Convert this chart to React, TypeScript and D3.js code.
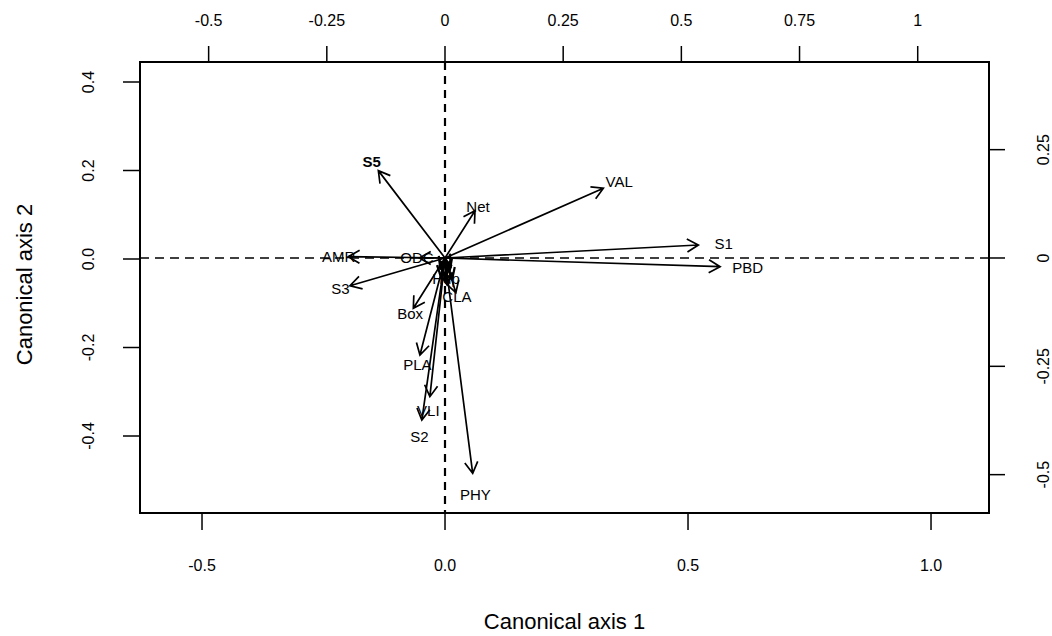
import React from "react";
import * as d3 from "d3";

// Axis ticks
const bottomTicks = [-0.5, 0, 0.5, 1.0];
const bottomTickLabels = ["-0.5", "0.0", "0.5", "1.0"];
const leftTicks = [-0.4, -0.2, 0, 0.2, 0.4];
const leftTickLabels = ["-0.4", "-0.2", "0.0", "0.2", "0.4"];
const topTicks = [-0.5, -0.25, 0, 0.25, 0.5, 0.75, 1];
const topTickLabels = ["-0.5", "-0.25", "0", "0.25", "0.5", "0.75", "1"];
const rightTicks = [-0.5, -0.25, 0, 0.25];
const rightTickLabels = ["-0.5", "-0.25", "0", "0.25"];

// Biplot arrows (in top/right axis units)
const arrowNames = ["S5", "VAL", "Net", "S1", "PBD", "AMR", "ODC", "S3", "Hdp", "CLA", "Box", "PLA", "VLI", "S2", "PHY"];
const arrowAxis1 = [-0.141, 0.335, 0.0635, 0.536, 0.582, -0.2046, -0.054, -0.201, 0.002, 0.023, -0.067, -0.053, -0.032, -0.049, 0.0586];
const arrowAxis2 = [0.2016, 0.161, 0.109, 0.030, -0.020, 0.003, 0.0, -0.064, -0.042, -0.08, -0.116, -0.224, -0.320, -0.374, -0.497];

// Short unlabelled arrows clustered at the origin
const minorAxis1 = [0.01, 0.015, -0.008, 0.012, -0.01, 0.004];
const minorAxis2 = [-0.03, -0.05, -0.045, -0.02, -0.025, -0.06];

const xTitle = "Canonical axis 1";
const yTitle = "Canonical axis 2";

const W = 1052;
const H = 636;
const box = { left: 140, right: 989, top: 62, bottom: 513 };

export default function App() {
  const xBottom = d3.scaleLinear().domain([-0.6276, 1.1193]).range([box.left, box.right]);
  const yLeft = d3.scaleLinear().domain([-0.574, 0.4452]).range([box.bottom, box.top]);
  const xTop = d3.scaleLinear().domain([-0.6452, 1.1508]).range([box.left, box.right]);
  const yRight = d3.scaleLinear().domain([-0.5885, 0.4523]).range([box.bottom, box.top]);

  const ox = xTop(0);
  const oy = yRight(0);
  const font = "Liberation Sans, Arial, Helvetica, sans-serif";
  const tickFs = 16;
  const headLen = 13;
  const headAng = Math.PI / 6;

  const arrowPath = (x1: number, y1: number) => {
    const ang = Math.atan2(y1 - oy, x1 - ox);
    const a1 = ang + Math.PI - headAng;
    const a2 = ang + Math.PI + headAng;
    const p = d3.path();
    p.moveTo(ox, oy);
    p.lineTo(x1, y1);
    p.moveTo(x1 + headLen * Math.cos(a1), y1 + headLen * Math.sin(a1));
    p.lineTo(x1, y1);
    p.lineTo(x1 + headLen * Math.cos(a2), y1 + headLen * Math.sin(a2));
    return p.toString();
  };

  return (
    <svg width={W} height={H} style={{ display: "block", position: "absolute", left: 0, top: 0, background: "#fff" }}>
      <rect x={0} y={0} width={W} height={H} fill="#fff" />
      {/* dashed zero lines */}
      <line x1={box.left} x2={box.right} y1={oy} y2={oy} stroke="#000" strokeWidth={1.6} strokeDasharray="9,6" />
      <line x1={ox} x2={ox} y1={box.top} y2={box.bottom} stroke="#000" strokeWidth={2.2} strokeDasharray="8,6" />

      {/* minor arrows */}
      {minorAxis1.map((u, i) => (
        <path key={"m" + i} d={arrowPath(xTop(u), yRight(minorAxis2[i]))} fill="none" stroke="#000" strokeWidth={2.2} />
      ))}

      {/* arrows */}
      {arrowNames.map((n, i) => (
        <path key={"a" + n} d={arrowPath(xTop(arrowAxis1[i]), yRight(arrowAxis2[i]))} fill="none" stroke="#000" strokeWidth={1.7} />
      ))}
      {arrowNames.map((n, i) => (
        <text
          key={"t" + n}
          x={xTop(arrowAxis1[i] * 1.1)}
          y={yRight(arrowAxis2[i] * 1.1)}
          textAnchor="middle"
          dominantBaseline="central"
          fontFamily={font}
          fontSize={15}
          fontWeight={n === "S5" ? 700 : 400}
          fill="#000"
        >
          {n}
        </text>
      ))}

      {/* box */}
      <rect x={box.left} y={box.top} width={box.right - box.left} height={box.bottom - box.top} fill="none" stroke="#000" strokeWidth={2} />

      {/* bottom axis */}
      {bottomTicks.map((t, i) => (
        <g key={"b" + i}>
          <line x1={xBottom(t)} x2={xBottom(t)} y1={box.bottom} y2={box.bottom + 17} stroke="#000" strokeWidth={1.5} />
          <text x={xBottom(t)} y={565} textAnchor="middle" dominantBaseline="central" fontFamily={font} fontSize={tickFs}>
            {bottomTickLabels[i]}
          </text>
        </g>
      ))}
      {/* left axis */}
      {leftTicks.map((t, i) => (
        <g key={"l" + i}>
          <line x1={box.left} x2={box.left - 17} y1={yLeft(t)} y2={yLeft(t)} stroke="#000" strokeWidth={1.5} />
          <text
            transform={`translate(${box.left - 52},${yLeft(t)}) rotate(-90)`}
            textAnchor="middle"
            dominantBaseline="central"
            fontFamily={font}
            fontSize={tickFs}
          >
            {leftTickLabels[i]}
          </text>
        </g>
      ))}
      {/* top axis */}
      {topTicks.map((t, i) => (
        <g key={"tp" + i}>
          <line x1={xTop(t)} x2={xTop(t)} y1={box.top} y2={box.top - 16} stroke="#000" strokeWidth={1.5} />
          <text x={xTop(t)} y={20} textAnchor="middle" dominantBaseline="central" fontFamily={font} fontSize={tickFs}>
            {topTickLabels[i]}
          </text>
        </g>
      ))}
      {/* right axis */}
      {rightTicks.map((t, i) => (
        <g key={"r" + i}>
          <line x1={box.right} x2={box.right + 16} y1={yRight(t)} y2={yRight(t)} stroke="#000" strokeWidth={1.5} />
          <text
            transform={`translate(${box.right + 54},${yRight(t)}) rotate(-90)`}
            textAnchor="middle"
            dominantBaseline="central"
            fontFamily={font}
            fontSize={tickFs}
          >
            {rightTickLabels[i]}
          </text>
        </g>
      ))}

      {/* titles */}
      <text x={(box.left + box.right) / 2} y={621} textAnchor="middle" dominantBaseline="central" fontFamily={font} fontSize={22}>
        {xTitle}
      </text>
      <text
        transform={`translate(24,${(box.top + box.bottom) / 2 - 3}) rotate(-90)`}
        textAnchor="middle"
        dominantBaseline="central"
        fontFamily={font}
        fontSize={22}
      >
        {yTitle}
      </text>
    </svg>
  );
}
